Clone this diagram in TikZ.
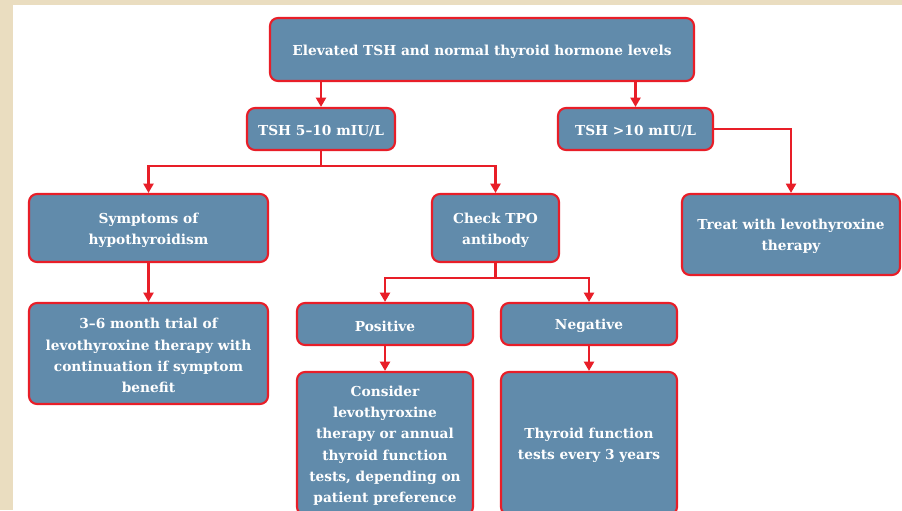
\documentclass[tikz,border=0pt]{standalone}
\usepackage{fontspec}
\setmainfont{DejaVu Serif}
\usetikzlibrary{arrows.meta}
\definecolor{boxfill}{RGB}{97,139,171}
\definecolor{boxline}{RGB}{232,30,40}
\definecolor{beige}{RGB}{234,221,192}
\begin{document}
\begin{tikzpicture}[x=0.75pt,y=-0.75pt,
 box/.style={draw=boxline, line width=1.6pt, fill=boxfill, rounded corners=6pt, inner sep=0pt},
 txt/.style={text=white, font=\bfseries\fontsize{10.3}{16}\selectfont, align=center, inner sep=0pt, yshift=-1.6pt},
 arr/.style={draw=boxline, line width=1.7pt, -{Triangle[length=7pt,width=7.5pt]}}]
\fill[beige] (0,0) rectangle (902,510);
\fill[white] (13,5) rectangle (902,510);
\useasboundingbox (0,0) rectangle (902,510);
\clip (0,0) rectangle (902,510);
\node[box, minimum width=318pt, minimum height=47.25pt, label={[txt]center:{Elevated TSH and normal thyroid hormone levels}}] (top) at (482,49.5) {};
\node[box, minimum width=111pt, minimum height=31.5pt, label={[txt]center:{TSH 5--10 mIU/L}}] (tsha) at (321,129) {};
\node[box, minimum width=116.25pt, minimum height=31.5pt, label={[txt]center:{TSH >10 mIU/L}}] (tshb) at (635.5,129) {};
\node[box, minimum width=179.25pt, minimum height=51pt, label={[txt]center:{Symptoms of\\hypothyroidism}}] (symp) at (148.5,228) {};
\node[box, minimum width=95.25pt, minimum height=51pt, label={[txt]center:{Check TPO\\antibody}}] (tpo) at (495.5,228) {};
\node[box, minimum width=163.5pt, minimum height=60.75pt, label={[txt]center:{Treat with levothyroxine\\therapy}}] (treat) at (791,234.5) {};
\node[box, minimum width=179.25pt, minimum height=75.75pt, label={[txt]center:{3--6 month trial of\\levothyroxine therapy with\\continuation if symptom\\benefit}}] (trial) at (148.5,353.5) {};
\node[box, minimum width=132pt, minimum height=31.5pt, label={[txt]center:{Positive}}] (pos) at (385,324) {};
\node[box, minimum width=132pt, minimum height=31.5pt, label={[txt]center:{Negative}}] (neg) at (589,324) {};
\node[box, minimum width=132pt, minimum height=107.25pt, label={[txt]center:{Consider\\levothyroxine\\therapy or annual\\thyroid function\\tests, depending on\\patient preference}}] (cons) at (385,443.5) {};
\node[box, minimum width=132pt, minimum height=107.25pt, label={[txt]center:{Thyroid function\\tests every 3 years}}] (tft) at (589,443.5) {};
\draw[arr] (tsha.north |- top.south) -- (tsha.north);
\draw[arr] (tshb.north |- top.south) -- (tshb.north);
\draw[arr] (tsha.south) -- ++(0,15) -| (symp.north);
\draw[arr] (tsha.south) -- ++(0,15) -| (tpo.north);
\draw[arr] (tshb.east) -| (treat.north);
\draw[arr] (symp.south) -- (trial.north);
\draw[arr] (tpo.south) -- ++(0,15) -| (pos.north);
\draw[arr] (tpo.south) -- ++(0,15) -| (neg.north);
\draw[arr] (pos.south) -- (cons.north);
\draw[arr] (neg.south) -- (tft.north);
\end{tikzpicture}
\end{document}
